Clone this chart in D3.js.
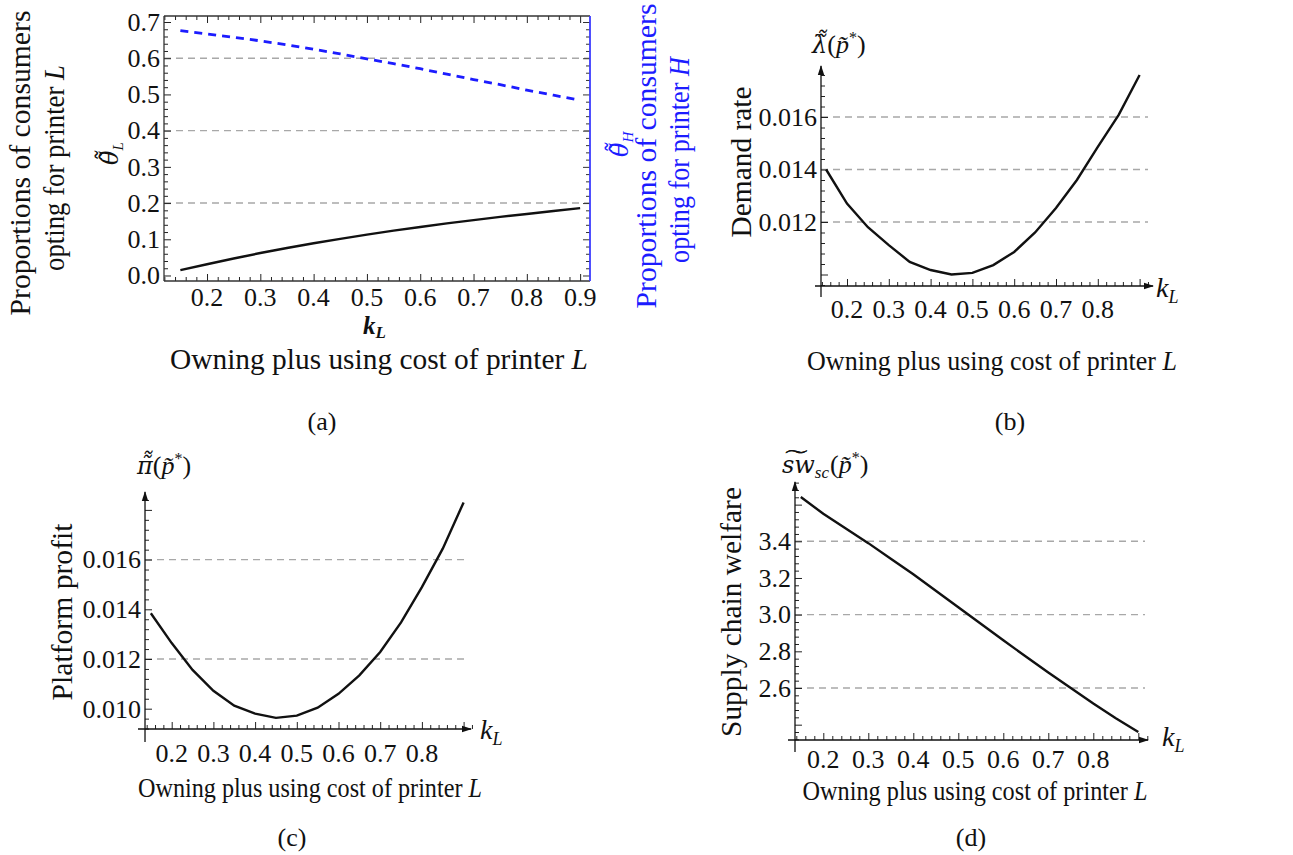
<!DOCTYPE html>
<html>
<head>
<meta charset="utf-8">
<script src="https://cdn.jsdelivr.net/npm/d3@7"></script>
<style>
  html, body { margin: 0; padding: 0; background: #fff; }
  svg { display: block; }
  svg text { font-family: 'Liberation Serif', 'DejaVu Serif', 'Times New Roman', serif; }
</style>
</head>
<body>
<svg id="chart" width="1293" height="855" font-family="'Liberation Serif', 'DejaVu Serif', serif"></svg>
<script>
// ---------------- DATA ----------------
const kValues = [0.15, 0.2, 0.25, 0.3, 0.35, 0.4, 0.45, 0.5, 0.55, 0.6, 0.65, 0.7, 0.75, 0.8, 0.85, 0.9];
// (a) proportions of consumers
const thetaL = [0.015, 0.031, 0.047, 0.062, 0.076, 0.089, 0.101, 0.113, 0.124, 0.134, 0.144, 0.153, 0.162, 0.170, 0.178, 0.186];
const thetaH = [0.676, 0.667, 0.658, 0.648, 0.637, 0.625, 0.612, 0.598, 0.585, 0.571, 0.556, 0.541, 0.527, 0.512, 0.498, 0.484];
// (b) demand rate
const demandRate = [0.0140, 0.0127, 0.0118, 0.01112, 0.01048, 0.01017, 0.0100, 0.01006, 0.01036, 0.01086, 0.0116, 0.01253, 0.0136, 0.01486, 0.01608, 0.0176];
// (c) platform profit
const platformProfit = [0.01384, 0.01264, 0.01156, 0.01072, 0.01012, 0.0098, 0.00963, 0.00972, 0.01004, 0.0106, 0.01134, 0.01228, 0.01347, 0.01489, 0.01644, 0.0183];
// (d) supply chain welfare
const welfare = [3.642, 3.55, 3.47, 3.39, 3.305, 3.22, 3.13, 3.04, 2.95, 2.86, 2.772, 2.685, 2.60, 2.515, 2.435, 2.36];

// tick labels
const xTicksA = [0.2, 0.3, 0.4, 0.5, 0.6, 0.7, 0.8, 0.9];
const xTicksBCD = [0.2, 0.3, 0.4, 0.5, 0.6, 0.7, 0.8];
const yTicksA = [0.0, 0.1, 0.2, 0.3, 0.4, 0.5, 0.6, 0.7];
const yTicksB = [0.012, 0.014, 0.016];
const yTicksC = [0.010, 0.012, 0.014, 0.016];
const yTicksD = [2.6, 2.8, 3.0, 3.2, 3.4];
const gridA = [0.2, 0.4, 0.6];
const gridB = [0.012, 0.014, 0.016];
const gridC = [0.012, 0.016];
const gridD = [2.6, 3.0, 3.4];

const xTitle = "Owning plus using cost of printer ";
const TT = "\u0303\u0303"; // double tilde (stacked combining tildes)
const T1 = "\u0303";

// ---------------- HELPERS ----------------
const FONT = "'Liberation Serif', 'DejaVu Serif', serif";
const DJ = "'DejaVu Serif', serif";
const svg = d3.select("#chart");
const defs = svg.append("defs");
defs.append("marker").attr("id", "arrow").attr("viewBox", "0 0 10 8")
  .attr("refX", 9).attr("refY", 4).attr("markerWidth", 10).attr("markerHeight", 8)
  .attr("markerUnits", "userSpaceOnUse").attr("orient", "auto")
  .append("path").attr("d", "M0,0.8 L10,4 L0,7.2 Z").attr("fill", "#111");

const rnd = v => Math.round(v * 100000) / 100000;
function steps(a, b, s) { const out = []; for (let v = a; v <= b + 1e-9; v += s) out.push(rnd(v)); return out; }

function txt(parent) { return parent.append("text").attr("font-family", FONT); }

function tickAxis(g, axisFn, scale, values, size, transform, color) {
  const ax = g.append("g").attr("transform", transform)
    .call(axisFn(scale).tickValues(values).tickSize(size).tickFormat(""));
  ax.select(".domain").remove();
  ax.selectAll("line").attr("stroke", color || "#222").attr("stroke-width", 1);
  return ax;
}

// one <text> element built from sequential tspans
function mathText(parent, x, y, rotate, parts, color) {
  const g = parent.append("g").attr("transform", `translate(${x},${y}) rotate(${rotate})`);
  const t = txt(g).attr("fill", color);
  let cx = 0;
  parts.forEach(p => {
    const s = t.append("tspan").attr("x", cx).attr("y", p.dy || 0)
      .style("font-size", p.size + "px")
      .style("font-style", p.italic ? "italic" : "normal")
      .style("font-weight", p.bold ? "bold" : "normal")
      .text(p.t);
    if (p.font) s.style("font-family", p.font);
    cx += s.node().getComputedTextLength() + (p.kern || 0);
  });
  return g;
}

function fitText(parent, x, y, rotate, len, size, color, main, italicTail) {
  const g = parent.append("g").attr("transform", `translate(${x},${y}) rotate(${rotate})`);
  const t = txt(g).attr("text-anchor", "middle").style("font-size", size + "px").attr("fill", color);
  t.append("tspan").text(main);
  if (italicTail) t.append("tspan").style("font-style", "italic").text(italicTail);
  const w = t.node().getComputedTextLength();
  t.attr("transform", `scale(${len / w},1)`);
  return g;
}

function caption(parent, cx, baseline, str) {
  txt(parent).attr("x", cx).attr("y", baseline).attr("text-anchor", "middle")
    .style("font-size", "26px").attr("fill", "#111").text(str);
}

function grid(g, x0, x1, ys, scale) {
  g.selectAll(null).data(ys).enter().append("line")
    .attr("x1", x0).attr("x2", x1).attr("y1", d => scale(d)).attr("y2", d => scale(d))
    .attr("stroke", "#a8a8a8").attr("stroke-width", 1.4).attr("stroke-dasharray", "7,5");
}

const TICK_FS = 26;
function xLabels(g, scale, values, baseline, fmt) {
  g.selectAll(null).data(values).enter().append("text").attr("font-family", FONT)
    .attr("x", d => scale(d)).attr("y", baseline).attr("text-anchor", "middle")
    .style("font-size", TICK_FS + "px").attr("fill", "#111").text(fmt);
}
function yLabels(g, scale, values, rightX, fmt, color) {
  g.selectAll(null).data(values).enter().append("text").attr("font-family", FONT)
    .attr("x", rightX).attr("y", d => scale(d) + 8.8).attr("text-anchor", "end")
    .style("font-size", TICK_FS + "px").attr("fill", color || "#111").text(fmt);
}

const f1 = d3.format(".1f"), f3 = d3.format(".3f");

const pStar = [
  { t: "(", size: 26 },
  { t: "p" + T1, italic: true, size: 26 },
  { t: "*", size: 16, dy: -10 },
  { t: ")", size: 26 }
];

// ---------------- PANEL (a) ----------------
{
  const g = svg.append("g");
  const L = 164, R = 590, T = 16, B = 281;
  const x = d3.scaleLinear().domain([0.1193, 0.9185]).range([L, R]);
  const y = d3.scaleLinear().domain([-0.0152, 0.7166]).range([B, T]);

  grid(g, L, R, gridA, y);

  const xMinor = steps(0.12, 0.91, 0.02).filter(v => Math.abs(v * 10 - Math.round(v * 10)) > 1e-6);
  const yMinor = steps(0.0, 0.71, 0.02).filter(v => Math.abs(v * 10 - Math.round(v * 10)) > 1e-6);
  tickAxis(g, d3.axisBottom, x, xTicksA, -7, `translate(0,${B})`);
  tickAxis(g, d3.axisBottom, x, xMinor, -4, `translate(0,${B})`);
  tickAxis(g, d3.axisTop, x, xTicksA, -7, `translate(0,${T})`);
  tickAxis(g, d3.axisTop, x, xMinor, -4, `translate(0,${T})`);
  tickAxis(g, d3.axisLeft, y, yTicksA, -7, `translate(${L},0)`);
  tickAxis(g, d3.axisLeft, y, yMinor, -4, `translate(${L},0)`);
  tickAxis(g, d3.axisRight, y, yTicksA, -7, `translate(${R},0)`, "#333");
  tickAxis(g, d3.axisRight, y, yMinor, -4, `translate(${R},0)`, "#333");

  g.append("line").attr("x1", L).attr("x2", R).attr("y1", T).attr("y2", T).attr("stroke", "#333").attr("stroke-width", 1.3);
  g.append("line").attr("x1", L).attr("x2", R).attr("y1", B).attr("y2", B).attr("stroke", "#333").attr("stroke-width", 1.3);
  g.append("line").attr("x1", L).attr("x2", L).attr("y1", T).attr("y2", B).attr("stroke", "#333").attr("stroke-width", 1.3);
  g.append("line").attr("x1", R).attr("x2", R).attr("y1", T).attr("y2", B).attr("stroke", "#3b3bff").attr("stroke-width", 1.8);

  const line = d3.line().x((d, i) => x(kValues[i])).y(d => y(d));
  g.append("path").attr("d", line(thetaL)).attr("fill", "none").attr("stroke", "#111").attr("stroke-width", 2.4);
  g.append("path").attr("d", line(thetaH)).attr("fill", "none").attr("stroke", "#1c1cff").attr("stroke-width", 2.8).attr("stroke-dasharray", "8,6");

  xLabels(g, x, xTicksA, 306, f1);
  yLabels(g, y, yTicksA, 160, f1);

  fitText(g, 30, 163, -90, 305, 29, "#111", "Proportions of consumers");
  fitText(g, 64, 168, -90, 206, 29, "#111", "opting for printer ", "L");
  fitText(g, 656, 156, -90, 305, 29, "#1c1cff", "Proportions of consumers");
  fitText(g, 689, 160, -90, 206, 29, "#1c1cff", "opting for printer ", "H");

  mathText(g, 118, 165, -90, [
    { t: "θ" + TT, italic: true, size: 24, font: DJ },
    { t: "L", italic: true, size: 15, dy: 5 }
  ], "#111");
  mathText(g, 628, 157, -90, [
    { t: "θ" + TT, italic: true, size: 24, font: DJ },
    { t: "H", italic: true, size: 15, dy: 5 }
  ], "#1c1cff");

  mathText(g, 363, 334, 0, [
    { t: "k", italic: true, bold: true, size: 25 },
    { t: "L", italic: true, bold: true, size: 17, dy: 4 }
  ], "#111");

  fitText(g, 379, 369, 0, 418, 29, "#111", xTitle, "L");
  caption(g, 322, 430, "(a)");
}

// ---------------- Generic axis panel (b, c, d) ----------------
function axisPanel(opt) {
  const g = svg.append("g");
  const x = d3.scaleLinear().domain([0.2, 0.3]).range([opt.x02, opt.x02 + opt.dx]);
  const y = d3.scaleLinear().domain([opt.v0, opt.v1]).range([opt.y0, opt.y1]);
  const ax = x(opt.axisK);
  const ay = opt.axisY;

  grid(g, ax, opt.gridEnd, opt.grid, y);

  tickAxis(g, d3.axisBottom, x, opt.xMajor, -7, `translate(0,${ay})`);
  tickAxis(g, d3.axisBottom, x, opt.xMinor, -4, `translate(0,${ay})`);
  tickAxis(g, d3.axisLeft, y, opt.yMajor, -7, `translate(${ax},0)`);
  tickAxis(g, d3.axisLeft, y, opt.yMinor, -4, `translate(${ax},0)`);

  g.append("line").attr("x1", opt.xAxisStart).attr("x2", opt.xAxisEnd).attr("y1", ay).attr("y2", ay)
    .attr("stroke", "#111").attr("stroke-width", 1.3).attr("marker-end", "url(#arrow)");
  g.append("line").attr("x1", ax).attr("x2", ax).attr("y1", opt.yAxisBottom).attr("y2", opt.yAxisTop)
    .attr("stroke", "#111").attr("stroke-width", 1.3).attr("marker-end", "url(#arrow)");

  const line = d3.line().x((d, i) => x(kValues[i])).y(d => y(d));
  g.append("path").attr("d", line(opt.data)).attr("fill", "none").attr("stroke", "#111").attr("stroke-width", 2.4);

  xLabels(g, x, xTicksBCD, opt.xLabelY, f1);
  yLabels(g, y, opt.yLabels, ax - 4, opt.fmt);

  mathText(g, opt.kx, opt.ky, 0, [
    { t: "k", italic: true, size: 28 },
    { t: "L", italic: true, size: 18, dy: 6 }
  ], "#111");

  fitText(g, opt.vtX, opt.vtY, -90, opt.vtLen, 29, "#111", opt.vtText);
  fitText(g, opt.htX, opt.htY, 0, opt.htLen, 28, "#111", xTitle, "L");
  caption(g, opt.capX, opt.capY, opt.cap);
  return g;
}

const minorK = steps(0.14, 0.92, 0.02).filter(v => Math.abs(v * 10 - Math.round(v * 10)) > 1e-6);
const majorK = [0.2, 0.3, 0.4, 0.5, 0.6, 0.7, 0.8, 0.9];

// (b)
const gb = axisPanel({
  x02: 847, dx: 41.8, v0: 0.012, v1: 0.016, y0: 222, y1: 117,
  axisK: 0.1378, axisY: 286, gridEnd: 1148, grid: gridB,
  xMajor: majorK, xMinor: minorK,
  yMajor: [0.010, 0.012, 0.014, 0.016], yMinor: steps(0.0096, 0.0178, 0.0004).filter(v => Math.abs(v * 500 - Math.round(v * 500)) > 1e-6),
  xAxisStart: 815, xAxisEnd: 1153, yAxisBottom: 297, yAxisTop: 66,
  data: demandRate, xLabelY: 318, yLabels: yTicksB, fmt: f3,
  kx: 1156, ky: 297,
  vtX: 751, vtY: 162, vtText: "Demand rate", vtLen: 151,
  htX: 992, htY: 370, htLen: 370, capX: 1010, capY: 430, cap: "(b)"
});
mathText(gb, 812, 53, 0, [{ t: "λ" + TT, italic: true, size: 24, font: DJ }].concat(pStar), "#111");

// (c)
const gc = axisPanel({
  x02: 171.7, dx: 41.7, v0: 0.012, v1: 0.016, y0: 659, y1: 559.6,
  axisK: 0.1360, axisY: 729, gridEnd: 468, grid: gridC,
  xMajor: majorK, xMinor: minorK,
  yMajor: [0.010, 0.012, 0.014, 0.016, 0.018], yMinor: steps(0.0092, 0.0186, 0.0004).filter(v => Math.abs(v * 500 - Math.round(v * 500)) > 1e-6),
  xAxisStart: 138, xAxisEnd: 471, yAxisBottom: 742, yAxisTop: 492,
  data: platformProfit, xLabelY: 762, yLabels: yTicksC, fmt: f3,
  kx: 480, ky: 739,
  vtX: 72, vtY: 612, vtText: "Platform profit", vtLen: 177,
  htX: 310, htY: 797, htLen: 344, capX: 292, capY: 846, cap: "(c)"
});
mathText(gc, 137, 474, 0, [{ t: "π" + TT, italic: true, size: 24, font: DJ }].concat(pStar), "#111");

// (d)
const gd = axisPanel({
  x02: 823.3, dx: 45, v0: 2.6, v1: 3.4, y0: 688, y1: 541.3,
  axisK: 0.1371, axisY: 740, gridEnd: 1145, grid: gridD,
  xMajor: majorK, xMinor: minorK,
  yMajor: [2.4, 2.6, 2.8, 3.0, 3.2, 3.4, 3.6], yMinor: steps(2.32, 3.72, 0.04).filter(v => Math.abs(v * 5 - Math.round(v * 5)) > 1e-6),
  xAxisStart: 788, xAxisEnd: 1148, yAxisBottom: 752, yAxisTop: 482,
  data: welfare, xLabelY: 768, yLabels: yTicksD, fmt: f1,
  kx: 1162, ky: 746,
  vtX: 741, vtY: 612, vtText: "Supply chain welfare", vtLen: 250,
  htX: 975, htY: 800, htLen: 345, capX: 971, capY: 846, cap: "(d)"
});
mathText(gd, 782, 473, 0, [
  { t: "s\u0360\u0360w", italic: true, size: 24, font: DJ },
  { t: "sc", italic: true, size: 17, dy: 5, kern: 1 }
].concat(pStar), "#111");
</script>
</body>
</html>
